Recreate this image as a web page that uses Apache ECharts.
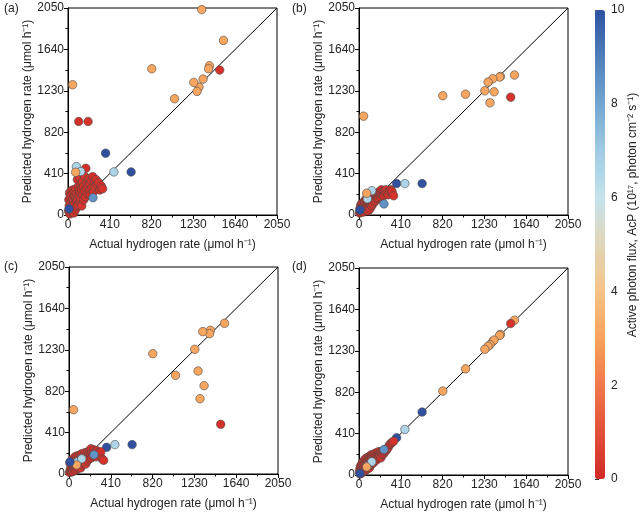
<!DOCTYPE html>
<html><head><meta charset="utf-8">
<script src="https://cdn.jsdelivr.net/npm/echarts@6/dist/echarts.min.js"></script>
<style>html,body{margin:0;padding:0;background:#fff}#c{width:640px;height:513px}</style>
</head><body><div id="c"></div>
<script>
// Shared actual values and AcP (10^17 photon cm^-2 s^-1)
const actual = [1525,1387,1379,1312,1325,1285,1266,1234,1045,822,45,1488,369,450,619,
 5,8,12,15,18,22,25,28,32,35,38,42,45,48,52,55,58,62,65,68,72,75,78,82,85,88,92,95,98,102,105,108,112,115,118,122,125,128,132,135,140,145,150,155,160,165,170,175,180,185,190,197,200,205,210,215,220,228,235,242,250,258,265,275,285,300,312,325,340,
 245,82,125,75,10];
const acp = [3.1,3.1,3.1,3.1,3.1,3.1,3.1,3.1,3.1,3.1,3.1,0.2,10,6.6,10,
 0.1,0.2,0.1,0.3,0.1,0.2,0.1,0.3,0.1,0.2,0.1,0.3,0.1,0.2,0.1,0.3,0.2,0.1,0.1,0.2,0.1,0.3,0.2,0.1,0.1,0.2,0.1,0.3,0.2,0.1,0.1,0.2,0.1,0.3,0.2,0.1,0.1,0.2,0.1,0.3,0.2,0.1,0.1,0.2,0.1,0.3,0.2,0.1,0.1,0.2,0.1,0.2,0.1,0.3,0.1,0.2,0.1,0.2,0.1,0.1,0.2,0.1,0.3,0.2,0.1,0.2,0.1,0.1,0.2,
 8.5,6.6,6.6,3.1,10];
const predA = [1729,1478,1448,2034,1346,1267,1224,1313,1151,1448,1290,1435,612,427,427,
 40,150,90,220,10,180,60,120,240,30,200,100,160,70,250,130,20,190,110,230,50,170,260,140,80,210,350,160,100,280,926,190,240,370,130,220,300,160,260,90,330,200,280,150,240,380,180,463,260,320,210,926,290,360,240,310,200,340,270,380,230,330,280,350,300,320,248,290,260,
 171,480,430,423,60];
const predB = [1386,1372,1366,1349,1220,1111,1316,1230,1197,1181,979,1167,311,311,311,
 20,60,35,90,25,110,50,70,40,95,120,60,30,85,100,140,55,75,130,45,160,90,65,150,100,40,120,170,80,130,110,60,150,100,180,120,90,140,170,110,150,190,130,160,200,140,180,210,160,190,170,230,200,220,180,210,250,200,230,190,240,210,250,220,200,240,250,230,190,
 110,160,241,215,50];
const predC = [1492,1423,1390,1410,875,746,1020,1235,977,1192,637,492,264,291,291,
 15,110,40,30,60,95,20,140,50,80,25,110,60,130,45,90,170,35,100,150,70,120,50,180,90,130,60,110,160,80,140,190,100,60,150,120,200,90,160,130,180,110,160,210,140,100,190,160,130,220,170,200,150,230,190,250,160,210,180,240,200,220,170,230,210,190,220,150,135,
 190,120,150,90,120];
const predD = [1533,1393,1382,1322,1336,1290,1275,1245,1051,831,60,1500,369,451,623,
 30,60,10,90,40,70,20,110,50,80,130,30,100,70,140,40,110,160,80,50,130,100,170,60,120,150,90,180,130,70,160,120,190,100,150,200,110,170,140,200,120,180,210,140,190,160,220,150,200,170,230,180,210,190,230,170,220,200,240,210,230,250,240,260,270,300,310,325,335,
 252,90,130,80,15];
const ticks = [0,410,820,1230,1640,2050];
const cbTicks = [0,2,4,6,8,10];
const panelLabels = ['(a)','(b)','(c)','(d)'];

const preds = [predA,predB,predC,predD];
const grids = [
  {left:68, top:8, width:209, height:207},
  {left:359, top:8, width:209, height:207},
  {left:69, top:267, width:209, height:207},
  {left:359, top:268, width:209, height:207}
];
const txt = '#222';
const font = 'Liberation Sans, Arial, sans-serif';
function axisCommon(){
  return {
    type:'value', min:ticks[0], max:ticks[ticks.length-1], interval:ticks[1]-ticks[0],
    axisLine:{show:true, lineStyle:{color:'#000', width:1}},
    axisTick:{show:true, inside:false, length:4, lineStyle:{color:'#000'}},
    minorTick:{show:true, splitNumber:2, length:2.5, lineStyle:{color:'#000'}},
    splitLine:{show:false},
    axisLabel:{color:txt, fontSize:12, fontFamily:font, margin:4, formatter:v=>String(v)},
    nameLocation:'middle',
    nameTextStyle:{color:txt, fontSize:12, fontFamily:font},
  };
}
const xAxes=[], yAxes=[], series=[], gridOpts=[];
grids.forEach((g,i)=>{
  gridOpts.push(Object.assign({show:true, borderColor:'#000', borderWidth:1, backgroundColor:'transparent'}, g));
  xAxes.push(Object.assign(axisCommon(), {gridIndex:i, name:'Actual hydrogen rate (μmol h⁻¹)', nameGap:24}));
  yAxes.push(Object.assign(axisCommon(), {gridIndex:i, name:'Predicted hydrogen rate (μmol h⁻¹)', nameGap:29}));
  series.push({type:'line', xAxisIndex:i, yAxisIndex:i, data:[[ticks[0],ticks[0]],[ticks[5],ticks[5]]],
    symbol:'none', lineStyle:{color:'#000', width:1}, z:1, silent:true, animation:false});
});
grids.forEach((g,i)=>{
  const data = actual.map((a,k)=>[a, preds[i][k], acp[k]]);
  series.push({type:'scatter', xAxisIndex:i, yAxisIndex:i, data:data, symbolSize:8.5,
    itemStyle:{borderColor:'#4a4a4a', borderWidth:0.6, opacity:1}, z:2, silent:true});
});
// colorbar axis
gridOpts.push({left:595, top:10, width:10, height:469, show:false});
xAxes.push({gridIndex:4, type:'value', show:false, min:0, max:1});
yAxes.push({gridIndex:4, type:'value', position:'right', min:cbTicks[0], max:cbTicks[cbTicks.length-1], interval:2,
  axisLine:{show:false}, axisTick:{show:true, length:4, lineStyle:{color:'#333'}}, splitLine:{show:false},
  axisLabel:{color:txt, fontSize:12, fontFamily:font, margin:6}});
series.push({type:'scatter', xAxisIndex:4, yAxisIndex:4, data:[]});

const graphics = panelLabels.map((t,i)=>({type:'text', left: i%2===0?4:292, top: i<2?3:261,
  style:{text:t, fill:txt, fontSize:12, fontFamily:font}}));
graphics.push({type:'text', x:633, y:215, rotation:Math.PI/2,
  style:{text:'Active photon flux, AcP (10¹⁷, photon cm⁻² s⁻¹)', fill:txt, fontSize:12, fontFamily:font, textAlign:'center', textVerticalAlign:'middle'}});

const chart = echarts.init(document.getElementById('c'));
chart.setOption({
  animation:false,
  backgroundColor:'#fff',
  textStyle:{fontFamily:font},
  grid:gridOpts, xAxis:xAxes, yAxis:yAxes, series:series,
  visualMap:{type:'continuous', min:0, max:10, dimension:2, seriesIndex:[4,5,6,7],
    left:595, top:10, itemWidth:10, itemHeight:469, calculable:false, text:null, padding:0,
    textStyle:{color:'transparent'},
    inRange:{color:['#d12b27','#e2503a','#f1784a','#f8a25c','#f6c388','#e2d6b8','#c4e2ec','#9fcbe3','#72a6d0','#4e7fbb','#2f51a0']}},
  graphic:graphics
});
</script></body></html>
